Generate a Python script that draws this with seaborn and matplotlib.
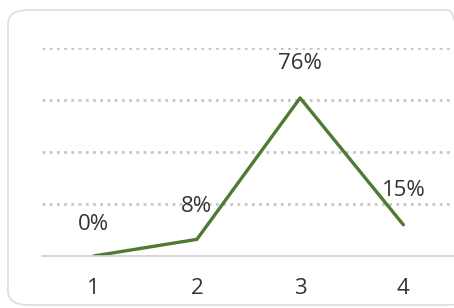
import numpy as np
import matplotlib.pyplot as plt
import seaborn as sns
import pandas as pd
from matplotlib.patches import FancyBboxPatch

steps = [1, 2, 3, 4]
share = [0, 8, 76, 15]
labels = ["0%", "8%", "76%", "15%"]

df = pd.DataFrame({"step": steps, "share": share})

sns.set_style("white")
plt.rcParams['font.family'] = ['Open Sans', 'DejaVu Sans']

fig = plt.figure(figsize=(4.54, 3.08), dpi=100)
ax = fig.add_axes([42 / 454, 52 / 308, 413 / 454, 208 / 308])

# rounded frame round the whole chart
frame = FancyBboxPatch((8 / 454, 3 / 308), 460 / 454, 295 / 308,
                       boxstyle="round,pad=0,rounding_size=0.045",
                       transform=fig.transFigure, fill=False,
                       edgecolor="#dedede", linewidth=1.2, zorder=0)
fig.patches.append(frame)

sns.lineplot(data=df, x="step", y="share", ax=ax, color="#4f7a32", linewidth=2.4)

ax.set_xlim(0.5, 4.5)
ax.set_ylim(0, 100)
ax.set_yticks([25, 50, 75, 100])
ax.yaxis.grid(True, color="#c6c6c6", linestyle=(0, (1, 1.6)), linewidth=2)
ax.set_xticks(steps)
ax.set_xticklabels([str(s) for s in steps], fontsize=16, color="#333333")
ax.tick_params(axis="x", length=0, pad=16)
ax.tick_params(axis="y", left=False, labelleft=False)
ax.set_xlabel("")
ax.set_ylabel("")
for s in ["top", "right", "left"]:
    ax.spines[s].set_visible(False)
ax.spines["bottom"].set_color("#d0d0d0")
ax.spines["bottom"].set_linewidth(1.2)

offsets = [(0, 23), (0, 24), (0, 25), (0, 25)]
for x, y, t, (dx, dy) in zip(steps, share, labels, offsets):
    ax.annotate(t, (x, y), xytext=(dx, dy), textcoords="offset points",
                ha="center", va="center", fontsize=16, color="#333333")

fig.savefig("out.png", dpi=100)
